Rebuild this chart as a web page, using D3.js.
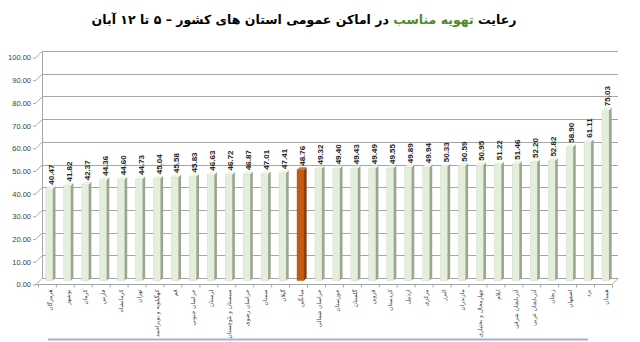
<!DOCTYPE html>
<html>
<head>
<meta charset="utf-8">
<script src="https://cdn.jsdelivr.net/npm/d3@7/dist/d3.min.js"></script>
<style>
html,body{margin:0;padding:0;background:#fff;}
svg{display:block;}
</style>
</head>
<body>
<svg id="chart" width="640" height="342"></svg>
<script>
const categories = [
  "هرمزگان","بوشهر","کرمان","فارس","کرمانشاه","تهران","کهگیلویه و بویراحمد","قم",
  "خراسان جنوبی","لرستان","سیستان و بلوچستان","خراسان رضوی","سمنان","گیلان","میانگین",
  "خراسان شمالی","خوزستان","گلستان","قزوین","کردستان","اردبیل","مرکزی","البرز",
  "مازندران","چهارمحال و بختیاری","ایلام","آذربایجان شرقی","آذربایجان غربی","زنجان",
  "اصفهان","یزد","همدان"
];
const values = [
  40.47,41.82,42.37,44.36,44.60,44.73,45.04,45.58,
  45.83,46.63,46.72,46.87,47.01,47.41,48.76,
  49.32,49.40,49.43,49.49,49.55,49.89,49.94,50.33,
  50.59,50.95,51.22,51.46,52.20,52.82,
  58.90,61.11,75.03
];
const highlightCategory = "میانگین";
const yTicks = [0,10,20,30,40,50,60,70,80,90,100];
const titleParts = [
  {text:"رعایت ", color:"#000"},
  {text:"تهویه مناسب", color:"#4f8a2a"},
  {text:" در  اماکن عمومی استان های کشور  –  ۵ تا ۱۲ آبان", color:"#000"}
];

const data = categories.map((c,i)=>({cat:c, value:values[i]}));
const svg = d3.select("#chart");

// geometry
const frontX = 36, backX = 42, frontRight = 612, backRight = 618;
const yFront = d3.scaleLinear().domain([0,100]).range([284.5,57.5]);
const yBack  = d3.scaleLinear().domain([0,100]).range([278.5,51.5]);
const yBar   = d3.scaleLinear().domain([0,100]).range([280.5,53.5]);
const x = d3.scaleBand().domain(categories).range([40.4,614.5]).padding(0);
const cx = c => x(c) + x.bandwidth()/2;

// title
const title = svg.append("text")
  .attr("x",304).attr("y",24)
  .attr("text-anchor","middle")
  .attr("direction","rtl")
  .style("font-family","DejaVu Sans")
  .style("font-weight","bold")
  .style("font-size","12.5px");
titleParts.forEach(p=>title.append("tspan").attr("fill",p.color).text(p.text));

const g = svg.append("g");

// back wall gridlines
g.selectAll("line.grid").data(yTicks).join("line")
  .attr("x1",backX).attr("x2",backRight)
  .attr("y1",d=>yBack(d)).attr("y2",d=>yBack(d))
  .attr("stroke","#a6a6a6").attr("stroke-width",1).attr("shape-rendering","crispEdges");
// side wall diagonals
g.selectAll("line.side").data(yTicks).join("line")
  .attr("x1",frontX).attr("x2",backX)
  .attr("y1",d=>yFront(d)).attr("y2",d=>yBack(d))
  .attr("stroke","#a6a6a6").attr("stroke-width",1);
// back wall left edge
g.append("line").attr("x1",backX).attr("x2",backX)
  .attr("y1",yBack(0)).attr("y2",yBack(100))
  .attr("stroke","#a6a6a6").attr("shape-rendering","crispEdges");

// y axis (front)
const yAxis = d3.axisLeft(yFront).tickValues(yTicks).tickFormat(d3.format(".2f")).tickSize(3).tickPadding(2);
const ya = svg.append("g").attr("transform",`translate(${frontX},0)`).call(yAxis);
ya.select(".domain").remove();
ya.selectAll(".tick line").attr("stroke","#a6a6a6");
ya.selectAll(".tick text").attr("fill","#404040")
  .style("font-family","Liberation Sans").style("font-size","7.5px");

// floor
g.append("path")
  .attr("d",`M${frontX},${yFront(0)}L${frontRight},${yFront(0)}L${backRight},${yBack(0)}`)
  .attr("fill","none").attr("stroke","#a6a6a6");

// category ticks
const bounds = categories.map(c=>x(c)).concat([x(categories[categories.length-1])+x.bandwidth()]);
g.selectAll("line.ctick").data(bounds).join("line")
  .attr("x1",d=>d-2).attr("x2",d=>d-2)
  .attr("y1",yFront(0)).attr("y2",yFront(0)+3)
  .attr("stroke","#a6a6a6");

// bars
const fw = 7, sd = 2.6;
const bars = g.selectAll("g.bar").data(data).join("g");
bars.each(function(d){
  const el = d3.select(this);
  const c = cx(d.cat);
  const top = yBar(d.value), bot = yBar(0);
  const hl = d.cat === highlightCategory;
  const front = hl ? "#c55a11" : "#e3efda";
  const side = hl ? "#843c0c" : "#9ca58f";
  const topc = hl ? "#d9712b" : "#eef5e8";
  el.append("rect").attr("x",c-fw/2).attr("y",top).attr("width",fw).attr("height",bot-top)
    .attr("fill",front).attr("stroke",hl?"#a04a0e":"#c8d3bf").attr("stroke-width",0.4);
  el.append("path")
    .attr("d",`M${c+fw/2},${bot}L${c+fw/2},${top}L${c+fw/2+sd},${top-sd}L${c+fw/2+sd},${bot-sd}Z`)
    .attr("fill",side);
  el.append("path")
    .attr("d",`M${c-fw/2},${top}L${c+fw/2},${top}L${c+fw/2+sd},${top-sd}L${c-fw/2+sd},${top-sd}Z`)
    .attr("fill",topc);
});

// value labels
g.selectAll("text.val").data(data).join("text")
  .attr("transform",d=>`translate(${cx(d.cat)+4.5},${yBar(d.value)-4}) rotate(-90)`)
  .attr("text-anchor","start")
  .attr("fill","#262626")
  .style("font-family","Liberation Sans").style("font-weight","bold").style("font-size","8px")
  .text(d=>d3.format(".2f")(d.value));

// category labels
g.selectAll("text.cat").data(categories).join("text")
  .attr("transform",d=>`translate(${cx(d)+2.2},${yFront(0)+5}) rotate(-90)`)
  .attr("text-anchor","end")
  .attr("fill","#404040")
  .style("font-family","DejaVu Sans").style("font-size","5.8px")
  .text(d=>d);

// bottom line
svg.append("line").attr("x1",48).attr("x2",588).attr("y1",339.5).attr("y2",339.5)
  .attr("stroke","#9fb3cf").attr("stroke-width",2);
</script>
</body>
</html>
